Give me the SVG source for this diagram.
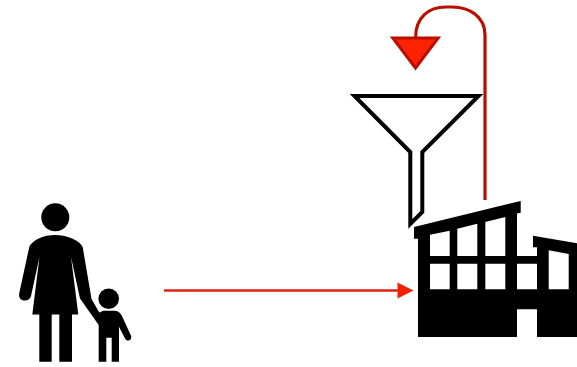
<svg xmlns="http://www.w3.org/2000/svg" width="577" height="367" viewBox="0 0 577 367">
<style>
.fig{fill:#000;stroke:none}
.dark{fill:none;stroke:#b80f00;stroke-width:3.200}
</style>
<rect width="577" height="367" fill="#fff"/>
<g id="people">
<circle class="fig" cx="55.3" cy="217.3" r="14"/>
<path class="fig" d="M55,235C43,235 35,239 29.5,246L19.5,292C18,298 21,300.500 25,300.500C28,300.500 30.500,298.500 31,296L39.500,257L32.300,314.500H39.300V361.700H51.700V314.500H59.300V361.700H72V314.500H78.300L71,257L80,298.500L98.700,325V361.700H106.300V337.700H111.700V361.700H119V326.700L125,338.500C126.500,341 129,341 130.500,339.500C131.500,338 131.500,336.500 130.700,335L121.700,315.500C120,312.500 118,310.700 114,310.700H103.300L99.300,312.500L91.500,299L82.700,247C80,241 68,235 55,235Z"/>
<circle class="fig" cx="108.700" cy="298.700" r="10.300"/>
</g>
<g id="funnel">
<path d="M354.500,96H478.500L422.300,152V212L410.300,224V152Z" fill="none" stroke="#000" stroke-width="4"/>
</g>
<g id="factory">
<path class="fig" fill-rule="evenodd" d="M414,227L520.700,201V212.700L517,213.500V256H537V247.300H533V235.700L577,243.300V337H537V309.300H517V337H418V238.700H414ZM430,234.700L449.700,230.700V256H430ZM457.300,228.700L477.300,223.700V256H457.300ZM485.300,222L505.300,217V256H485.300ZM548.700,250.300L568.700,254V289.300H548.700ZM430,263.700H449.700V289.300H430ZM457.300,263.700H477.300V289.300H457.300ZM485.300,263.700H505.300V289.300H485.300ZM517,263.700H537V289.300H517Z"/>
</g>
<g id="connectors">
<path d="M164,290.500H399" fill="none" stroke="#e2200f" stroke-width="2.400"/>
<path d="M397.500,282.500L413.500,290.500L397.500,298.500Z" fill="#f02000"/>
<path class="dark" d="M485,200V35C485,17 470,7 452,7H446C428,7 415.700,18 415.700,37"/>
<path d="M392.800,38H438.200L415.500,68Z" fill="#ff2200" stroke="#b80f00" stroke-width="3"/>
</g>
</svg>
